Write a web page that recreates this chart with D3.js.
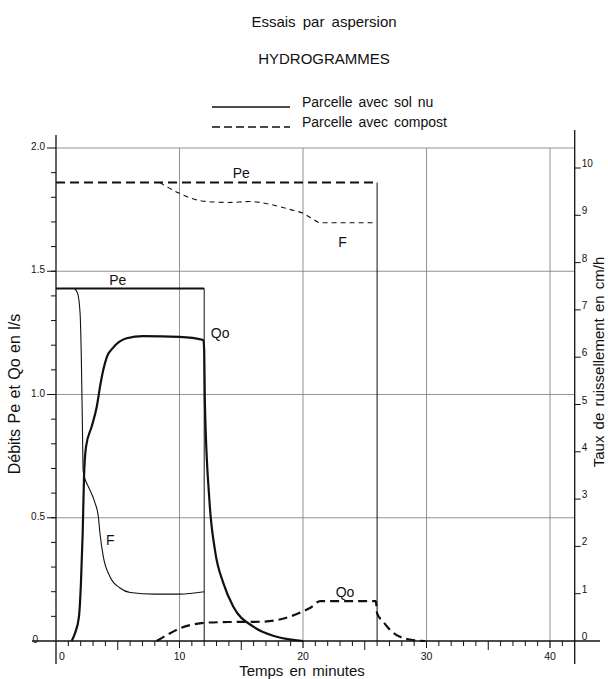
<!DOCTYPE html>
<html><head><meta charset="utf-8">
<script src="https://cdn.jsdelivr.net/npm/d3@7"></script>
<style>
html,body{margin:0;padding:0;background:#fff;}
svg{display:block;font-family:"Liberation Sans",Arial,sans-serif;}
</style></head>
<body>
<svg id="c" width="608" height="679"></svg>
<script>
// ---- data (time in minutes, flows in l/s) ----
const timeTicks = [0, 10, 20, 30, 40];
const leftTicks = [0, 0.5, 1.0, 1.5, 2.0];
const leftTickLabels = ["0", "0.5", "1.0", "1.5", "2.0"];
const rightTicks = [0,1,2,3,4,5,6,7,8,9,10];

const peSolNu = [[0,1.43],[12,1.43]];
const peSolNuEnd = [[12,1.43],[12,0]];
const fSolNu = [[1.5,1.43],[1.75,1.41],[1.95,1.33],[2.05,1.15],[2.13,0.9],[2.2,0.69],[2.4,0.65],[2.62,0.626],[3.16,0.56],[3.43,0.504],[3.56,0.437],[3.83,0.342],[4.37,0.261],[5.18,0.215],[6.0,0.197],[8,0.19],[10,0.19],[12,0.2]];
const qoSolNu = [[1.27,0],[1.54,0.032],[1.86,0.099],[2.02,0.235],[2.16,0.437],[2.27,0.667],[2.43,0.788],[2.89,0.87],[3.3,0.95],[3.56,1.03],[3.83,1.10],[4.1,1.15],[4.63,1.19],[5.72,1.228],[7.05,1.237],[10,1.234],[11.93,1.221],[12,1.18],[12.05,0.978],[12.42,0.572],[12.87,0.369],[13.55,0.235],[14.36,0.139],[15.98,0.058],[17.87,0.017],[20,0]];

const peCompost = [[0,1.86],[26,1.86]];
const peCompostEnd = [[26,1.86],[26,0]];
const fCompost = [[8.4,1.86],[9,1.842],[10,1.816],[11,1.795],[12.2,1.783],[14,1.779],[15.7,1.783],[17,1.775],[18.1,1.762],[19,1.75],[20,1.735],[20.7,1.715],[21.4,1.697],[25.9,1.697]];
const qoCompost = [[8.15,0],[9,0.025],[10,0.051],[11,0.066],[12,0.074],[14,0.077],[16.5,0.078],[17.9,0.085],[19,0.1],[20,0.12],[20.6,0.135],[21.4,0.162],[25.9,0.162],[26,0.112],[26.5,0.078],[27.05,0.045],[27.85,0.017],[28.66,0.006],[29.9,0]];

// ---- scales ----
const svg = d3.select("#c");
const x = d3.scaleLinear().domain([0, 42]).range([56, 574.7]);
const yL = d3.scaleLinear().domain([0, 2]).range([641, 148]);
const yR = d3.scaleLinear().domain([0, 10]).range([641, 168]);

const ink = "#111";
const gridC = "#777";

// titles
svg.append("text").attr("x", 324).attr("y", 27).attr("text-anchor","middle")
  .attr("font-size", 15).attr("word-spacing", 3).attr("fill", ink).text("Essais par aspersion");
svg.append("text").attr("x", 324).attr("y", 64).attr("text-anchor","middle")
  .attr("font-size", 15).attr("fill", ink).text("HYDROGRAMMES");

// legend
svg.append("line").attr("x1",212).attr("x2",290).attr("y1",107).attr("y2",107)
  .attr("stroke",ink).attr("stroke-width",1.6);
svg.append("text").attr("x",302).attr("y",107).attr("font-size",14).attr("word-spacing",2).attr("fill",ink).text("Parcelle avec sol nu");
svg.append("line").attr("x1",212).attr("x2",290).attr("y1",127).attr("y2",127)
  .attr("stroke",ink).attr("stroke-width",1.6).attr("stroke-dasharray","8,4");
svg.append("text").attr("x",302).attr("y",127).attr("font-size",14).attr("word-spacing",2).attr("fill",ink).text("Parcelle avec compost");

// grid
const g = svg.append("g");
[0.5,1.0,1.5,2.0].forEach(v => {
  g.append("line").attr("x1", x(0)).attr("x2", x(42)).attr("y1", yL(v)).attr("y2", yL(v))
   .attr("stroke", gridC).attr("stroke-width", 0.8);
});
timeTicks.filter(t => t > 0).forEach(t => {
  g.append("line").attr("x1", x(t)).attr("x2", x(t)).attr("y1", yL(2)).attr("y2", yL(0) + 7)
   .attr("stroke", gridC).attr("stroke-width", 0.8);
});

// axes lines
svg.append("line").attr("x1", x(0)).attr("x2", x(0)).attr("y1", 135).attr("y2", 664).attr("stroke", ink).attr("stroke-width", 1.3);
svg.append("line").attr("x1", x(42)).attr("x2", x(42)).attr("y1", 130).attr("y2", 664).attr("stroke", ink).attr("stroke-width", 1.3);
svg.append("line").attr("x1", 32).attr("x2", 600).attr("y1", yL(0)).attr("y2", yL(0)).attr("stroke", ink).attr("stroke-width", 1.3);

// x minor ticks
d3.range(1, 42).forEach(t => {
  const len = (t % 5 === 0) ? (t % 10 === 0 ? 7 : 9) : 5;
  svg.append("line").attr("x1", x(t)).attr("x2", x(t)).attr("y1", yL(0)).attr("y2", yL(0) + len)
    .attr("stroke", ink).attr("stroke-width", 1);
});
timeTicks.forEach(t => {
  svg.append("text").attr("x", t === 0 ? x(t) + 3 : x(t)).attr("y", 660)
    .attr("text-anchor", t === 0 ? "start" : "middle").attr("font-size", 10.5).attr("fill", ink).text(t);
});
svg.append("text").attr("x", 302).attr("y", 676).attr("text-anchor","middle")
  .attr("font-size", 15).attr("word-spacing", 2).attr("fill", ink).text("Temps en minutes");

// left ticks
d3.range(1, 20).forEach(i => {
  const v = i / 10;
  svg.append("line").attr("x1", x(0) - 5).attr("x2", x(0)).attr("y1", yL(v)).attr("y2", yL(v))
    .attr("stroke", ink).attr("stroke-width", 1);
});
leftTicks.forEach((v, i) => {
  if (v > 0) svg.append("line").attr("x1", x(0) - 9).attr("x2", x(0)).attr("y1", yL(v)).attr("y2", yL(v))
    .attr("stroke", ink).attr("stroke-width", 1);
  svg.append("text").attr("x", v === 0 ? 38 : 45).attr("y", yL(v) + 2)
    .attr("text-anchor", "end").attr("font-size", 10).attr("fill", ink).text(leftTickLabels[i]);
});
svg.append("text").attr("transform", "translate(20,394) rotate(-90)").attr("text-anchor","middle")
  .attr("font-size", 16).attr("word-spacing", 1).attr("fill", ink).text("Débits Pe et Qo en l/s");

// right ticks
rightTicks.forEach(v => {
  if (v > 0) svg.append("line").attr("x1", x(42)).attr("x2", x(42) + 6).attr("y1", yR(v)).attr("y2", yR(v))
    .attr("stroke", ink).attr("stroke-width", 1);
  svg.append("text").attr("x", x(42) + 7).attr("y", yR(v) - 1)
    .attr("font-size", 10).attr("fill", ink).text(v);
});
svg.append("text").attr("transform", "translate(604,362) rotate(-90)").attr("text-anchor","middle")
  .attr("font-size", 15).attr("word-spacing", 2).attr("fill", ink).text("Taux de ruissellement en cm/h");

// ---- series ----
const lineLin = d3.line().x(d => x(d[0])).y(d => yL(d[1]));
const lineCurve = d3.line().x(d => x(d[0])).y(d => yL(d[1])).curve(d3.curveMonotoneX);

function draw(data, gen, w, dash) {
  const p = svg.append("path").datum(data).attr("d", gen).attr("fill","none")
    .attr("stroke", ink).attr("stroke-width", w).attr("stroke-linejoin","round");
  if (dash) p.attr("stroke-dasharray", dash);
  return p;
}
draw(peSolNu, lineLin, 2);
draw(peSolNuEnd, lineLin, 1);
draw(fSolNu, lineCurve, 1.1);
draw(qoSolNu, lineCurve, 2.2);

draw(peCompost, lineLin, 2.2, "9,5");
draw(peCompostEnd, lineLin, 1);
draw(fCompost, lineCurve, 1.1, "5,4");
draw(qoCompost, lineCurve, 2.2, "9,5");

// series labels
function lab(t, xx, yy) {
  svg.append("text").attr("x", xx).attr("y", yy).attr("text-anchor","middle")
    .attr("font-size", 14).attr("fill", ink).text(t);
}
lab("Pe", x(5), yL(1.43) - 4);
lab("Qo", x(12) + 16, yL(1.25) + 5);
lab("F", x(4.4), yL(0.41) + 5);
lab("Pe", x(15), yL(1.86) - 5);
lab("F", x(23.2), yL(1.62) + 5);
lab("Qo", x(23.4), yL(0.2) + 5);
</script>
</body></html>
